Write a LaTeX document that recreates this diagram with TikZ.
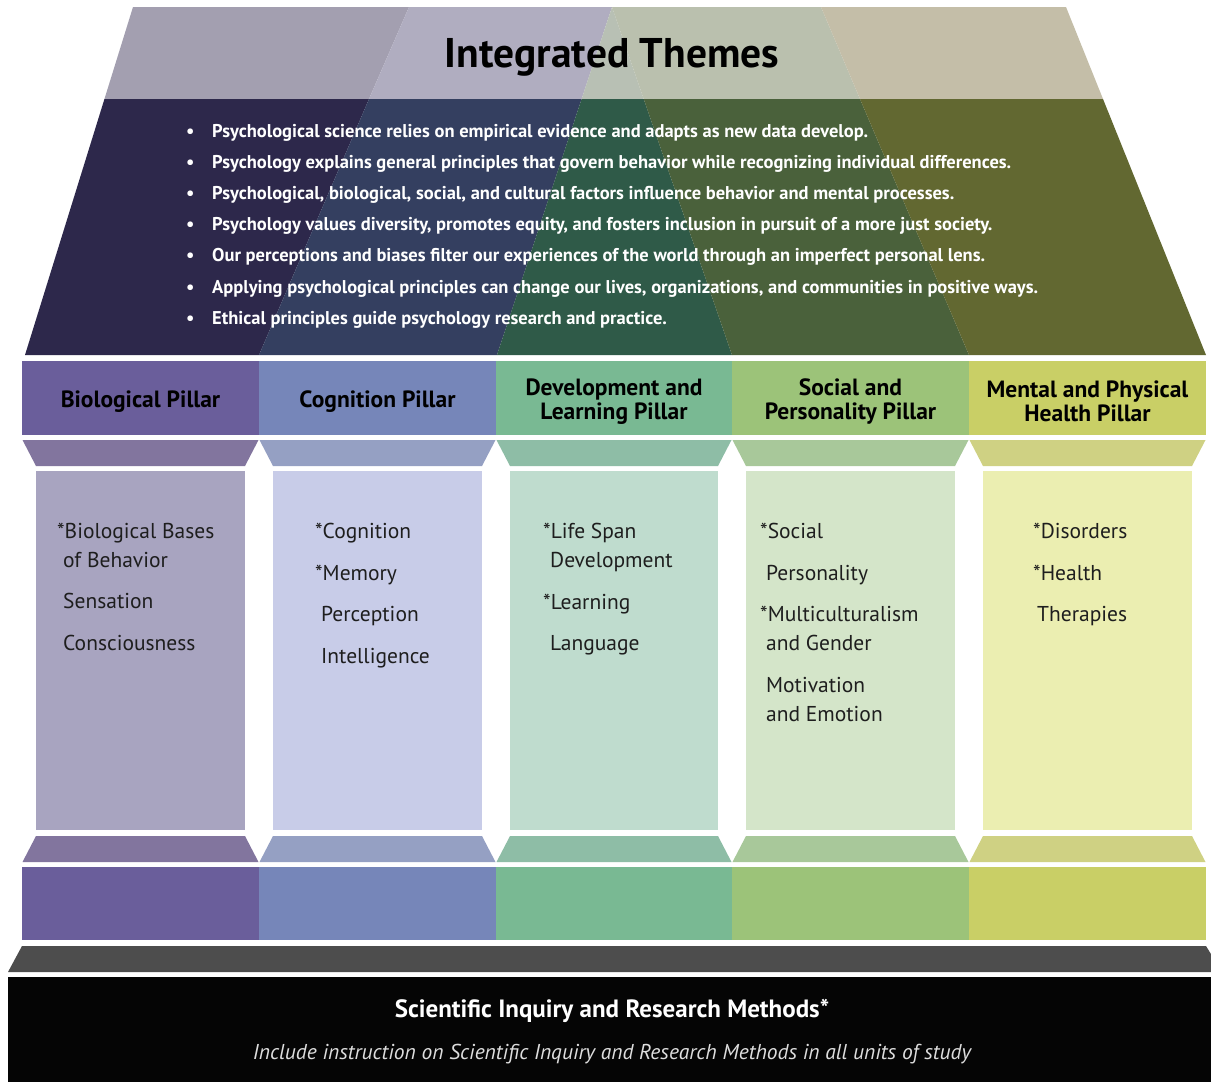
\documentclass[tikz,border=0pt]{standalone}
\usepackage{fontspec}
\setmainfont{PT Sans}
\definecolor{lA}{HTML}{A39FB0}
\definecolor{lB}{HTML}{B0ADC0}
\definecolor{lC}{HTML}{B8C0B4}
\definecolor{lD}{HTML}{BAC0AE}
\definecolor{lE}{HTML}{C4BEA8}
\definecolor{dA}{HTML}{2D284B}
\definecolor{dB}{HTML}{343F60}
\definecolor{dC}{HTML}{2F5A48}
\definecolor{dD}{HTML}{4A613B}
\definecolor{dE}{HTML}{626831}
\definecolor{h1}{HTML}{6A5E9B}
\definecolor{h2}{HTML}{7686B9}
\definecolor{h3}{HTML}{79B993}
\definecolor{h4}{HTML}{9CC379}
\definecolor{h5}{HTML}{C9CF66}
\definecolor{c1}{HTML}{82759E}
\definecolor{c2}{HTML}{95A0C3}
\definecolor{c3}{HTML}{8EBDA6}
\definecolor{c4}{HTML}{A8C89A}
\definecolor{c5}{HTML}{CFD183}
\definecolor{s1}{HTML}{A8A4C0}
\definecolor{s2}{HTML}{C8CCE8}
\definecolor{s3}{HTML}{BFDCCE}
\definecolor{s4}{HTML}{D4E5C9}
\definecolor{s5}{HTML}{EBEEB1}
\definecolor{txtc}{HTML}{1E1E1E}
\definecolor{basegray}{HTML}{4D4D4D}
\definecolor{baseblack}{HTML}{050505}
\definecolor{sublight}{HTML}{DDDDDD}
\begin{document}
\begin{tikzpicture}[x=1pt,y=-1pt,
  hdr/.style={font=\fontsize{23.5}{24}\selectfont\bfseries, text=black, align=center, inner sep=0pt},
  itm/.style={anchor=base west, font=\fontsize{21.5}{22}\selectfont, text=txtc, inner sep=0pt},
  bul/.style={anchor=base west, font=\fontsize{18.5}{20}\selectfont\bfseries, text=white, inner sep=0pt}]
\useasboundingbox (0,0) rectangle (1211,1082);
\fill[white] (0,0) rectangle (1211,1082);
% roof
\begin{scope}
\clip (133,7) -- (1066,7) -- (1206,355) -- (25,355) -- cycle;
\fill[lA] (0,7) -- (409,7) -- (369,99) -- (0,99) -- cycle;
\fill[lB] (409,7) -- (612,7) -- (581.6,99) -- (369,99) -- cycle;
\fill[lC] (612,7) -- (643.7,99) -- (581.6,99) -- cycle;
\fill[lD] (612,7) -- (821,7) -- (860,99) -- (643.7,99) -- cycle;
\fill[lE] (821,7) -- (1211,7) -- (1211,99) -- (860,99) -- cycle;
\fill[dA] (0,99) -- (369,99) -- (259,355) -- (0,355) -- cycle;
\fill[dB] (369,99) -- (581.6,99) -- (497,355) -- (259,355) -- cycle;
\fill[dC] (581.6,99) -- (643.7,99) -- (732,355) -- (497,355) -- cycle;
\fill[dD] (643.7,99) -- (860,99) -- (969,355) -- (732,355) -- cycle;
\fill[dE] (860,99) -- (1211,99) -- (1211,355) -- (969,355) -- cycle;
\end{scope}
\node[font=\fontsize{41.5}{44}\selectfont\bfseries, text=black, inner sep=0pt] (title) at (612,57) {Integrated Themes};
\foreach \n/\yy/\t in {
  1/137/{Psychological science relies on empirical evidence and adapts as new data develop.},
  2/168/{Psychology explains general principles that govern behavior while recognizing individual differences.},
  3/199/{Psychological, biological, social, and cultural factors influence behavior and mental processes.},
  4/230/{Psychology values diversity, promotes equity, and fosters inclusion in pursuit of a more just society.},
  5/261/{Our perceptions and biases filter our experiences of the world through an imperfect personal lens.},
  6/293/{Applying psychological principles can change our lives, organizations, and communities in positive ways.},
  7/324/{Ethical principles guide psychology research and practice.}} {
  \node[bul] (dot\n) at (186,\yy) {•};
  \node[bul] (theme\n) at (212,\yy) {\t};
}
% pillars
\foreach \i/\l/\r/\ch/\cc/\cs in {1/22/259/h1/c1/s1, 2/259/496/h2/c2/s2, 3/496/732/h3/c3/s3, 4/732/969/h4/c4/s4, 5/969/1206/h5/c5/s5} {
  \fill[\ch] (\l,361) rectangle (\r,435);
  \fill[\cc] (\l+0.5,440) -- (\r-0.5,440) -- (\r-14,466) -- (\l+14,466) -- cycle;
  \fill[\cs] (\l+14,471) rectangle (\r-14,830);
  \fill[\cc] (\l+14,836) -- (\r-14,836) -- (\r-0.5,862) -- (\l+0.5,862) -- cycle;
  \fill[\ch] (\l,867) rectangle (\r,940);
}
\node[hdr] (hdr1) at (140.5,402) {Biological Pillar};
\node[hdr] (hdr2) at (377.5,402) {Cognition Pillar};
\node[hdr] (hdr3) at (614,401.5) {Development and\\Learning Pillar};
\node[hdr] (hdr4) at (850.5,401.5) {Social and\\Personality Pillar};
\node[hdr] (hdr5) at (1087.5,401.5) {Mental and Physical\\Health Pillar};
% pillar contents
\node[itm] (p1a) at (57,538) {*Biological Bases};
\node[itm] (p1b) at (63,567) {of Behavior};
\node[itm] (p1c) at (63,608) {Sensation};
\node[itm] (p1d) at (63,650) {Consciousness};
\node[itm] (p2a) at (315,538) {*Cognition};
\node[itm] (p2b) at (315,580) {*Memory};
\node[itm] (p2c) at (321,621) {Perception};
\node[itm] (p2d) at (321,663) {Intelligence};
\node[itm] (p3a) at (543,538) {*Life Span};
\node[itm] (p3b) at (550,567) {Development};
\node[itm] (p3c) at (543,609) {*Learning};
\node[itm] (p3d) at (550,650) {Language};
\node[itm] (p4a) at (760,538) {*Social};
\node[itm] (p4b) at (766,580) {Personality};
\node[itm] (p4c) at (760,621) {*Multiculturalism};
\node[itm] (p4d) at (766,650) {and Gender};
\node[itm] (p4e) at (766,692) {Motivation};
\node[itm] (p4f) at (766,721) {and Emotion};
\node[itm] (p5a) at (1033,538) {*Disorders};
\node[itm] (p5b) at (1033,580) {*Health};
\node[itm] (p5c) at (1037,621) {Therapies};
% foundation
\fill[basegray] (22,946) -- (1206,946) -- (1222,972) -- (8,972) -- cycle;
\fill[baseblack] (8,977) rectangle (1211,1082);
\node[font=\fontsize{25}{26}\selectfont\bfseries, text=white, inner sep=0pt] (found) at (612,1011) {Scientific Inquiry and Research Methods*};
\node[font=\fontsize{21.5}{22}\selectfont\itshape, text=sublight, inner sep=0pt] (foundsub) at (612,1054) {Include instruction on Scientific Inquiry and Research Methods in all units of study};
\end{tikzpicture}
\end{document}
